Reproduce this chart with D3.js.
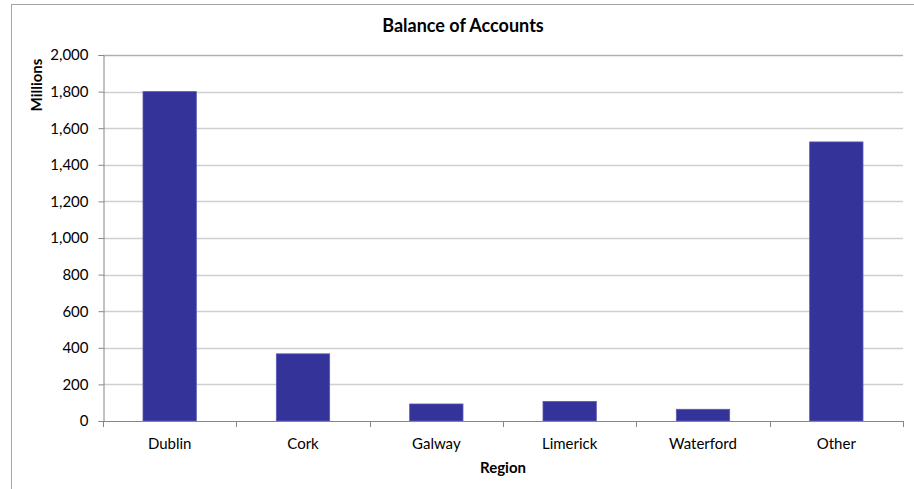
<!DOCTYPE html>
<html>
<head>
<meta charset="utf-8">
<script src="https://cdn.jsdelivr.net/npm/d3@7"></script>
<style>
  body { margin: 0; background: #fff; }
  text { font-family: Lato, "Open Sans", sans-serif; fill: #000; }
</style>
</head>
<body>
<script>
// chart data
var regions = ["Dublin", "Cork", "Galway", "Limerick", "Waterford", "Other"];
var balances = [1800, 367, 93, 107, 64, 1525];
var yTicks = [0, 200, 400, 600, 800, 1000, 1200, 1400, 1600, 1800, 2000];

var width = 914, height = 489;
var margin = {top: 55, right: 11, bottom: 68, left: 103};

var svg = d3.select("body").append("svg")
  .attr("width", width)
  .attr("height", height);

// outer chart border (only left and top visible)
svg.append("rect")
  .attr("x", 11.5).attr("y", 4.5)
  .attr("width", 920).attr("height", 500)
  .attr("fill", "none")
  .attr("stroke", "#a6a6a6");

var x = d3.scaleBand()
  .domain(regions)
  .range([margin.left, width - margin.right])
  .paddingInner(0.6)
  .paddingOuter(0.3);

var y = d3.scaleLinear()
  .domain([0, 2000])
  .range([height - margin.bottom, margin.top]);

// gridlines
svg.append("g")
  .selectAll("line")
  .data(yTicks.slice(1))
  .enter()
  .append("line")
    .attr("x1", margin.left)
    .attr("x2", width - margin.right)
    .attr("y1", function(d){ return Math.round(y(d)) + 0.5; })
    .attr("y2", function(d){ return Math.round(y(d)) + 0.5; })
    .attr("stroke", function(d){ return d == 2000 ? "#b0b0b0" : "#cfcfcf"; })
    .attr("stroke-width", 1.5);

// bars
svg.append("g")
  .selectAll("rect")
  .data(balances)
  .enter()
  .append("rect")
    .attr("x", function(d, i){ return x(regions[i]); })
    .attr("y", function(d){ return y(d); })
    .attr("width", x.bandwidth())
    .attr("height", function(d){ return y(0) - y(d); })
    .attr("fill", "#333399")
    .attr("stroke", "#5a5ab8")
    .attr("stroke-width", 0.8);

// y axis
var yAxis = svg.append("g")
  .attr("transform", "translate(" + (margin.left + 0.5) + ",0)")
  .call(d3.axisLeft(y).tickValues(yTicks).tickSize(5).tickPadding(10)
    .tickFormat(d3.format(",")));
yAxis.select(".domain").attr("stroke", "#868686");
yAxis.selectAll(".tick line").attr("stroke", "#868686");
yAxis.selectAll("text").attr("font-size", "15px").style("font-family", "Lato, sans-serif");

// x axis with ticks between categories
var x0 = y(0);
svg.append("line")
  .attr("x1", margin.left).attr("x2", width - margin.right)
  .attr("y1", Math.round(x0) + 0.5).attr("y2", Math.round(x0) + 0.5)
  .attr("stroke", "#868686");
svg.append("g")
  .selectAll("line")
  .data(d3.range(regions.length + 1))
  .enter()
  .append("line")
    .attr("x1", function(i){ return Math.round(margin.left + i * (width - margin.right - margin.left) / regions.length) + 0.5; })
    .attr("x2", function(i){ return Math.round(margin.left + i * (width - margin.right - margin.left) / regions.length) + 0.5; })
    .attr("y1", Math.round(x0))
    .attr("y2", Math.round(x0) + 6)
    .attr("stroke", "#868686");

svg.append("g")
  .selectAll("text")
  .data(regions)
  .enter()
  .append("text")
    .attr("x", function(d){ return x(d) + x.bandwidth() / 2; })
    .attr("y", 449)
    .attr("text-anchor", "middle")
    .attr("font-size", "15px")
    .text(function(d){ return d; });

// titles
svg.append("text")
  .attr("x", 463).attr("y", 32)
  .attr("text-anchor", "middle")
  .attr("font-size", "18px")
  .attr("font-weight", "bold")
  .text("Balance of Accounts");

svg.append("text")
  .attr("x", 503).attr("y", 473)
  .attr("text-anchor", "middle")
  .attr("font-size", "15px")
  .attr("font-weight", "bold")
  .text("Region");

svg.append("text")
  .attr("transform", "translate(42,85) rotate(-90)")
  .attr("text-anchor", "middle")
  .attr("font-size", "15px")
  .attr("font-weight", "bold")
  .text("Millions");
</script>
</body>
</html>
